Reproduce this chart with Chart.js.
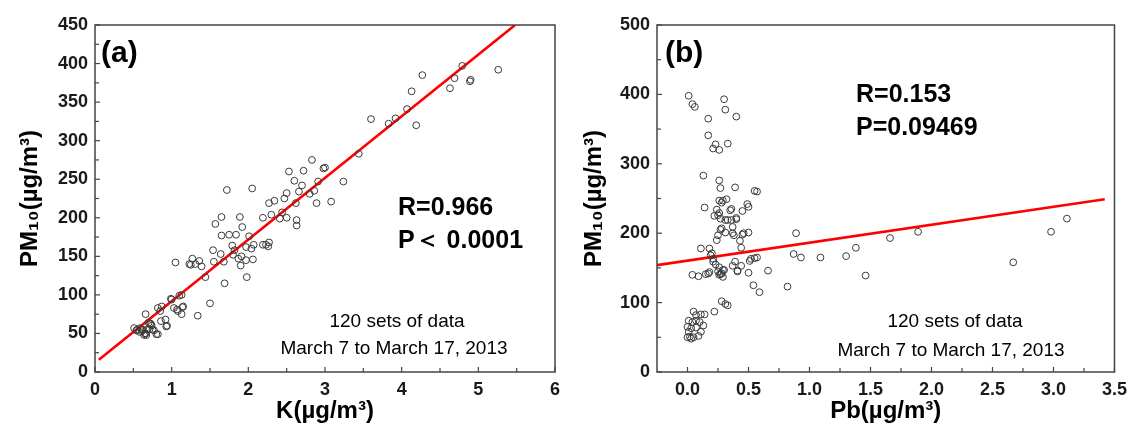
<!DOCTYPE html>
<html><head><meta charset="utf-8">
<script src="https://cdn.jsdelivr.net/npm/chart.js@4.4.1/dist/chart.umd.min.js"></script>
<style>
html,body{margin:0;padding:0;background:#fff;}
#wrap{position:relative;width:1134px;height:433px;overflow:hidden;}
canvas{position:absolute;top:0;}
#ca{left:0;} #cb{left:567px;}
</style></head><body>
<div id="wrap"><canvas id="ca" width="567" height="433"></canvas><canvas id="cb" width="567" height="433"></canvas></div>
<script>
// ---------- Panel (a): K vs PM10 ----------
const kValues = [
 0.51,0.54,0.55,0.58,0.59,0.61,0.62,0.65,0.66,0.66,0.67,0.64,0.68,0.70,0.71,0.72,0.73,0.74,0.75,0.77,
 0.80,0.82,0.82,0.85,0.86,0.87,0.92,0.93,0.94,0.99,1.00,1.03,1.07,1.08,1.10,1.13,1.13,1.14,1.15,1.05,
 1.23,1.25,1.27,1.31,1.34,1.36,1.39,1.44,1.50,1.54,1.55,1.57,1.65,1.65,1.64,1.68,1.69,1.72,1.75,1.79,
 1.80,1.84,1.82,1.87,1.89,1.92,1.91,1.90,1.97,1.98,2.01,1.97,2.04,2.07,2.06,2.05,
 2.19,2.19,2.23,2.27,2.26,2.27,2.30,2.34,2.41,2.44,2.47,2.50,2.50,2.53,2.60,2.62,2.63,2.63,2.66,2.70,
 2.72,2.83,2.80,2.86,2.89,2.91,2.98,3.00,3.08,3.24,
 3.44,3.60,3.83,3.92,4.07,4.13,4.19,4.27,4.63,4.69,4.79,4.89,4.90,5.26];
const pmA = [
 57,54,55,52,57,53,55,50,75,50,48,48,55,64,55,63,62,60,55,54,
 49,49,83,79,66,85,68,59,60,95,94,83,81,79,99,100,75,84,85,142,
 140,139,147,140,73,144,137,123,89,158,143,192,201,177,153,143,115,236,178,164,
 152,178,158,147,201,188,150,138,145,123,176,162,160,165,146,238,
 200,165,165,168,163,219,204,222,199,207,225,232,200,260,248,219,197,190,234,242,
 261,275,231,235,219,247,264,265,221,247,
 283,328,322,329,341,364,320,385,368,381,397,377,379,392];
const fitAx = [0.05, 5.48];
const fitAy = [16, 450];
const xTicksA = [0,1,2,3,4,5,6];
const xTickLabelsA = ['0','1','2','3','4','5','6'];
const xMinorA = [0.5,1.5,2.5,3.5,4.5,5.5];
const yTicksA = [0,50,100,150,200,250,300,350,400,450];
const yTickLabelsA = ['0','50','100','150','200','250','300','350','400','450'];
const yMinorA = [25,75,125,175,225,275,325,375,425];

// ---------- Panel (b): Pb vs PM10 ----------
const pbValues = [
 0.01,0.04,0.06,0.30,0.31,0.40,0.17,0.17,0.23,0.21,0.26,0.33,0.13,0.26,0.27,0.39,0.55,0.57,0.14,0.24,
 0.26,0.29,0.32,0.36,0.45,0.49,0.50,0.22,0.26,0.27,0.31,0.36,0.40,0.37,0.27,0.31,0.37,0.46,0.50,0.24,
 0.43,0.44,0.11,0.18,0.20,0.21,0.23,0.26,0.30,0.27,0.18,0.15,0.04,0.09,0.37,0.39,0.44,0.41,0.50,0.52,
 0.55,0.57,0.54,0.59,0.66,0.28,0.33,0.31,0.82,0.87,0.89,0.93,1.09,1.30,1.38,1.46,1.66,1.89,2.67,2.98,
 3.11,
 0.33,0.25,0.38,0.45,0.19,0.29,0.25,0.51,0.17,0.26,0.29,0.28,0.22,0.28,0.35,0.25,0.40,0.28,0.41,0.21,
 0.05,0.07,0.11,0.14,0.01,0.04,0.07,0.10,0.13,0.00,0.03,0.07,0.11,0.01,0.02,0.05,0.09,0.03,0.00];
const pmB = [
 398,386,382,393,378,368,365,341,328,322,320,329,283,276,265,266,261,260,237,234,
 247,247,249,235,232,242,238,225,229,221,219,219,222,209,205,201,200,200,201,190,
 189,179,178,178,171,163,155,151,147,141,144,141,140,138,153,159,153,146,143,163,
 164,165,125,115,146,102,96,98,123,170,200,165,165,167,179,139,193,202,158,202,
 221,
 219,197,197,198,168,147,145,160,142,140,137,142,87,244,233,226,220,207,145,159,
 87,82,83,83,74,72,74,72,67,65,63,64,58,58,51,50,52,48,50];
const fitBx = [-0.25, 3.42];
const fitBy = [154, 249];
const xTicksB = [0,0.5,1,1.5,2,2.5,3,3.5];
const xTickLabelsB = ['0.0','0.5','1.0','1.5','2.0','2.5','3.0','3.5'];
const xMinorB = [0.25,0.75,1.25,1.75,2.25,2.75,3.25];
const yTicksB = [0,100,200,300,400,500];
const yTickLabelsB = ['0','100','200','300','400','500'];
const yMinorB = [50,150,250,350,450];

const pts = (xs, ys) => xs.map((x,i)=>({x:x, y:ys[i]}));

const framePlugin = {
  id:'frame',
  afterDatasetsDraw(chart, args, o){
    const {ctx, chartArea:a, scales} = chart;
    ctx.save();
    ctx.strokeStyle = '#444'; ctx.lineWidth = 1.5;
    ctx.strokeRect(a.left, a.top, a.right-a.left, a.bottom-a.top);
    ctx.lineWidth = 1.2;
    const seg=(x1,y1,x2,y2)=>{ctx.beginPath();ctx.moveTo(x1,y1);ctx.lineTo(x2,y2);ctx.stroke();};
    o.xMajor.forEach(v=>{const p=scales.x.getPixelForValue(v); seg(p,a.bottom,p,a.bottom-5);});
    o.xMinor.forEach(v=>{const p=scales.x.getPixelForValue(v); seg(p,a.bottom,p,a.bottom-4);});
    o.yMajor.forEach(v=>{const p=scales.y.getPixelForValue(v); seg(a.left,p,a.left+5,p);});
    o.yMinor.forEach(v=>{const p=scales.y.getPixelForValue(v); seg(a.left,p,a.left+4,p);});
    ctx.restore();
  }
};
const notesPlugin = {
  id:'notes',
  afterDraw(chart, args, o){
    const ctx = chart.ctx;
    (o.items||[]).forEach(it=>{
      ctx.save(); ctx.font = it.font; ctx.fillStyle = '#000';
      ctx.textAlign = it.align||'left'; ctx.textBaseline='alphabetic';
      ctx.fillText(it.text, it.x, it.y); ctx.restore();
    });
  }
};

const FONT = "'Liberation Sans', Arial, sans-serif";
function makeChart(id, cfg){
  return new Chart(document.getElementById(id), {
    type:'scatter',
    data:{datasets:[
      {data:pts(cfg.xs, cfg.ys), pointStyle:'circle', pointRadius:3.4, pointBorderWidth:1,
       borderColor:'#3a3a3a', backgroundColor:'rgba(0,0,0,0)', pointHoverRadius:3.4},
      {type:'line', data:pts(cfg.fx, cfg.fy), borderColor:'#ff0000', borderWidth:2.6,
       pointRadius:0, fill:false, tension:0}
    ]},
    options:{
      responsive:false, animation:false, devicePixelRatio:1,
      layout:{padding:{top:25, right:cfg.padRight, left:0, bottom:0}},
      plugins:{legend:{display:false}, tooltip:{enabled:false},
        frame:{xMajor:cfg.xTicks, xMinor:cfg.xMinor, yMajor:cfg.yTicks, yMinor:cfg.yMinor},
        notes:{items:cfg.notes}},
      scales:{
        x:{type:'linear', min:cfg.xMin, max:cfg.xMax,
           afterFit:s=>{s.height=61;},
           afterBuildTicks:s=>{s.ticks=cfg.xTicks.map(v=>({value:v}));},
           grid:{display:false, drawTicks:false}, border:{display:false},
           ticks:{autoSkip:false, maxRotation:0, padding:7, color:'#1a1a1a',
             font:{family:FONT, size:18, weight:'bold'},
             callback:(v,i)=>cfg.xLabels[i]},
           title:{display:true, text:cfg.xTitle, color:'#000', padding:{top:0,bottom:7},
             font:{family:FONT, size:24, weight:'bold'}}},
        y:{type:'linear', min:cfg.yMin, max:cfg.yMax,
           afterFit:s=>{s.width=cfg.yWidth;},
           afterBuildTicks:s=>{s.ticks=cfg.yTicks.map(v=>({value:v}));},
           grid:{display:false, drawTicks:false}, border:{display:false},
           ticks:{autoSkip:false, padding:7, color:'#1a1a1a',
             font:{family:FONT, size:18, weight:'bold'},
             callback:(v,i)=>cfg.yLabels[i]},
           title:{display:true, text:'PM\u2081\u2080(\u00b5g/m\u00b3)', color:'#000', padding:{top:cfg.yTitlePad,bottom:0},
             font:{family:FONT, size:24, weight:'bold'}}}
      }
    },
    plugins:[framePlugin, notesPlugin]
  });
}

makeChart('ca', {
  xs:kValues, ys:pmA, fx:fitAx, fy:fitAy, xMin:0, xMax:6, yMin:0, yMax:450,
  xTicks:xTicksA, xLabels:xTickLabelsA, xMinor:xMinorA,
  yTicks:yTicksA, yLabels:yTickLabelsA, yMinor:yMinorA,
  xTitle:'K(\u00b5g/m\u00b3)', yWidth:95, padRight:11, yTitlePad:16,
  notes:[
    {text:'(a)', x:101, y:62, font:"bold 30px "+FONT},
    {text:'R=0.966', x:398, y:215, font:"bold 25px "+FONT},
    {text:'P\uff1c 0.0001', x:398, y:248, font:"bold 25px "+FONT},
    {text:'120 sets of data', x:397, y:327, align:'center', font:"19px "+FONT},
    {text:'March 7 to March 17, 2013', x:394, y:354, align:'center', font:"19px "+FONT}
  ]
});
makeChart('cb', {
  xs:pbValues, ys:pmB, fx:fitBx, fy:fitBy, xMin:-0.25, xMax:3.5, yMin:0, yMax:500,
  xTicks:xTicksB, xLabels:xTickLabelsB, xMinor:xMinorB,
  yTicks:yTicksB, yLabels:yTickLabelsB, yMinor:yMinorB,
  xTitle:'Pb(\u00b5g/m\u00b3)', yWidth:90, padRight:14, yTitlePad:13,
  notes:[
    {text:'(b)', x:98, y:62, font:"bold 30px "+FONT},
    {text:'R=0.153', x:289, y:102, font:"bold 25px "+FONT},
    {text:'P=0.09469', x:289, y:135, font:"bold 25px "+FONT},
    {text:'120 sets of data', x:388, y:327, align:'center', font:"19px "+FONT},
    {text:'March 7 to March 17, 2013', x:384, y:356, align:'center', font:"19px "+FONT}
  ]
});
</script>
</body></html>
